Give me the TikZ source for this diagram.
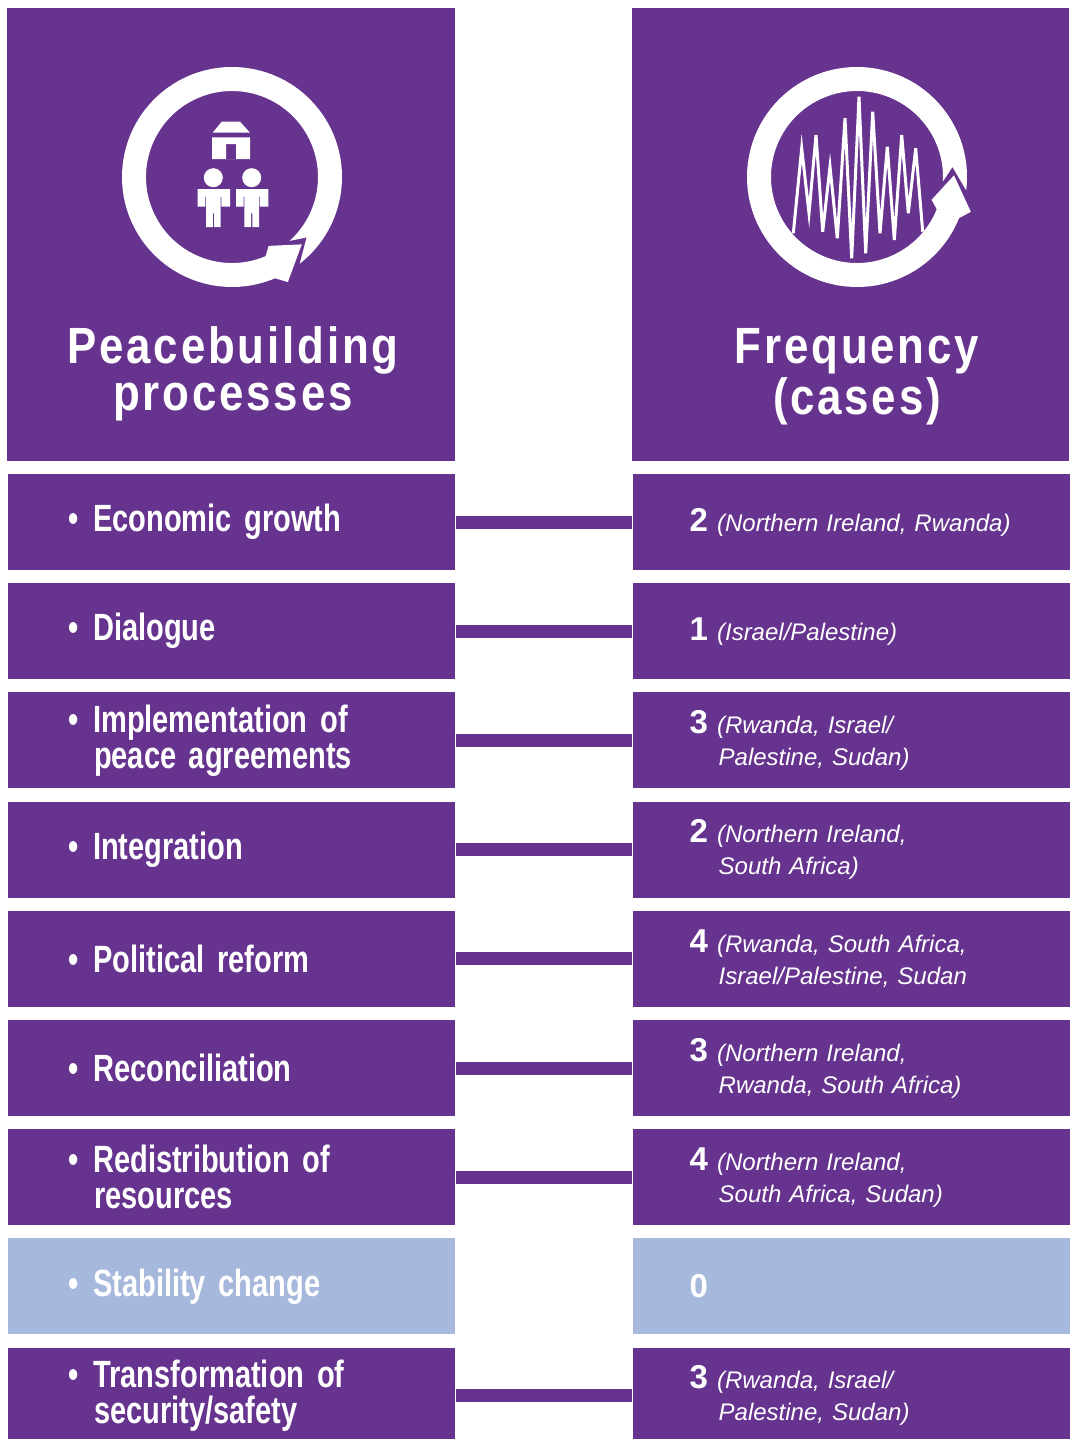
\documentclass[tikz,border=0pt]{standalone}
\usepackage{fontspec}
\setmainfont{Liberation Sans}[FakeStretch=0.765]
\newfontfamily\casefont{Liberation Sans}
\newfontfamily\headfont{Liberation Sans}[FakeStretch=0.86, LetterSpace=5.5]
\definecolor{peace}{RGB}{102,51,143}
\definecolor{calm}{RGB}{166,184,220}
\newcommand\tally[1]{{\casefont\upshape\bfseries\fontsize{9.4pt}{9.1pt}\selectfont #1}\hspace{0.9mm}}

\begin{document}
\begin{tikzpicture}[x=0.1mm, y=0.1mm,
        head/.style={fill=peace, minimum width=44.8mm, minimum height=45.3mm, inner sep=0pt},
        proc/.style={fill=peace, text=white, minimum height=9.6mm, inner xsep=6mm, text width=32.7mm, align=left,
            font=\fontsize{10.8pt}{10.25pt}\selectfont\bfseries},
        freq/.style={fill=peace, text=white, anchor=west, minimum width=43.7mm, minimum height=9.6mm, inner xsep=5.7mm,
            text width=33.5mm, align=left, font=\casefont\itshape\fontsize{6.83pt}{9.1pt}\selectfont},
        link/.style={draw=peace, line width=1.3mm},
        title/.style={text=white, align=center, font=\headfont\fontsize{14.5pt}{13.3pt}\selectfont\bfseries}
    ]
        \useasboundingbox (0,0) rectangle (1069,-1439);

        % headers
        \node[head] (hl) at (231,-234.5) {};
        \node[head, minimum width=43.7mm] (hr) at (850.5,-234.5) {};
        \node[title] (tl) at (233,-374) {Peacebuilding\\processes};
        \node[title] (tr) at (857,-377) {Frequency\\(cases)};

        % left icon
        \begin{scope}[shift={(232,-177)}, rotate=-52]
            \fill[white] (0:110) arc[start angle=0, end angle=345, radius=110]
                -- (350:119) -- (8:97) -- (350:78)
                -- (345:86) arc[start angle=345, end angle=4, radius=86] -- (13:96) -- cycle;
        \end{scope}
        \fill[white] (212.7,-132.7) -- (250,-132.7) -- (240,-121.7) -- (221.7,-121.7) -- cycle;
        \fill[white, even odd rule] (212,-137.3) rectangle (250,-159) (226,-144) rectangle (236,-159);
        \fill[white] (213.3,-177.7) circle[radius=9.5];
        \fill[white] (197.7,-189) rectangle (230,-196.7) (197.7,-196.7) rectangle (205.3,-206.7)
            (221.4,-196.7) rectangle (230,-206.7) (206,-196.7) rectangle (220.7,-213.3)
            (206,-213.3) rectangle (212.8,-227) (214,-213.3) rectangle (220.7,-227);
        \fill[white] (251.7,-177.7) circle[radius=9.5];
        \fill[white] (236.1,-189) rectangle (268.4,-196.7) (236.1,-196.7) rectangle (243.7,-206.7)
            (259.8,-196.7) rectangle (268.4,-206.7) (244.4,-196.7) rectangle (259.1,-213.3)
            (244.4,-213.3) rectangle (251.2,-227) (252.4,-213.3) rectangle (259.1,-227);

        % right icon
        \begin{scope}[shift={(857,-177)}, rotate=-7]
            \fill[white] (0:110) arc[start angle=0, end angle=345, radius=110]
                -- (350:119) -- (8:97) -- (350:78)
                -- (345:86) arc[start angle=345, end angle=4, radius=86] -- (13:96) -- cycle;
        \end{scope}
        \draw[white, line width=0.3mm] (793.3,-233.3) -- (801.7,-148.3) -- (809,-213.3) -- (816,-135)
            -- (822.7,-231.7) -- (830,-166.7) -- (837.3,-238.3) -- (845,-118.3) -- (851.7,-258.3)
            -- (859,-96.7) -- (865.7,-253.3) -- (872.7,-111.7) -- (880,-233.3) -- (887.3,-146.7)
            -- (894.3,-240) -- (901.7,-135) -- (908.3,-213.3) -- (915.7,-148.3) -- (922.7,-231.7);

        % rows
        \node[proc] (l1) at (231.5,-522) {\textbullet\hspace{1.5mm}Economic growth};
        \node[freq] (r1) at (632,-522) {\tally{2}(Northern Ireland, Rwanda)};
        \node[proc] (l2) at (231.5,-631.2) {\textbullet\hspace{1.5mm}Dialogue};
        \node[freq] (r2) at (632,-631.2) {\tally{1}(Israel/Palestine)};
        \node[proc] (l3) at (231.5,-740.4) {\textbullet\hspace{1.5mm}Implementation of\\\hspace*{2.6mm}peace agreements};
        \node[freq] (r3) at (632,-740.4) {\tally{3}(Rwanda, Israel/\\\hspace*{2.9mm}Palestine, Sudan)};
        \node[proc] (l4) at (231.5,-849.6) {\textbullet\hspace{1.5mm}Integration};
        \node[freq] (r4) at (632,-849.6) {\tally{2}(Northern Ireland,\\\hspace*{2.9mm}South Africa)};
        \node[proc] (l5) at (231.5,-958.8) {\textbullet\hspace{1.5mm}Political reform};
        \node[freq] (r5) at (632,-958.8) {\tally{4}(Rwanda, South Africa,\\\hspace*{2.9mm}Israel/Palestine, Sudan};
        \node[proc] (l6) at (231.5,-1068) {\textbullet\hspace{1.5mm}Reconciliation};
        \node[freq] (r6) at (632,-1068) {\tally{3}(Northern Ireland,\\\hspace*{2.9mm}Rwanda, South Africa)};
        \node[proc] (l7) at (231.5,-1177.2) {\textbullet\hspace{1.5mm}Redistribution of\\\hspace*{2.6mm}resources};
        \node[freq] (r7) at (632,-1177.2) {\tally{4}(Northern Ireland,\\\hspace*{2.9mm}South Africa, Sudan)};
        \node[proc, fill=calm] (l8) at (231.5,-1286.4) {\textbullet\hspace{1.5mm}Stability change};
        \node[freq, fill=calm] (r8) at (632,-1286.4) {\tally{0}};
        \node[proc] (l9) at (231.5,-1395.6) {\textbullet\hspace{1.5mm}Transformation of\\\hspace*{2.6mm}security/safety};
        \node[freq] (r9) at (632,-1395.6) {\tally{3}(Rwanda, Israel/\\\hspace*{2.9mm}Palestine, Sudan)};

        \draw[link] (l1) -- (r1);
        \draw[link] (l2) -- (r2);
        \draw[link] (l3) -- (r3);
        \draw[link] (l4) -- (r4);
        \draw[link] (l5) -- (r5);
        \draw[link] (l6) -- (r6);
        \draw[link] (l7) -- (r7);
        \draw[link] (l9) -- (r9);
    \end{tikzpicture}
\end{document}
